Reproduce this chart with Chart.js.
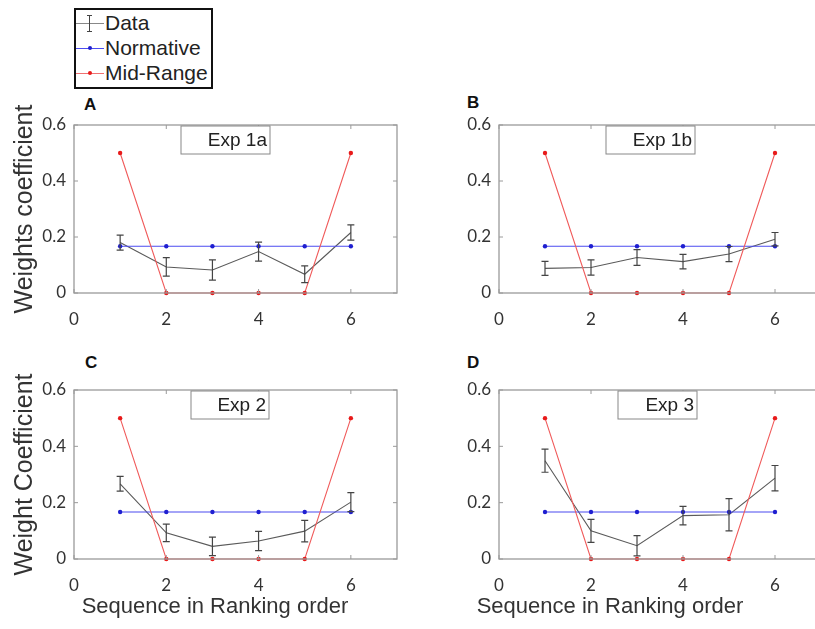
<!DOCTYPE html>
<html>
<head>
<meta charset="utf-8">
<script src="https://cdn.jsdelivr.net/npm/chart.js@4.4.0/dist/chart.umd.min.js"></script>
<style>
  html, body { margin: 0; padding: 0; background: #fff; }
  body { position: relative; width: 815px; height: 629px; overflow: hidden; font-family: "Liberation Sans", Arial, sans-serif; }
  canvas { position: absolute; }
  .letter { position: absolute; font-weight: bold; font-size: 17px; color: #111; }
  #legend { position: absolute; left: 74px; top: 8px; width: 139px; height: 81px; box-sizing: border-box; border: 2px solid #111; background: #fff; }
  #legend .row { position: relative; height: 25px; line-height: 25px; font-size: 21px; color: #222; padding-left: 29px; white-space: nowrap; }
  #legend .ln { position: absolute; left: 0; top: 13px; width: 28px; height: 1px; }
  #legend .dot { position: absolute; left: 12px; top: 11px; width: 4px; height: 4px; border-radius: 50%; }
  #legend .eb { position: absolute; left: 11px; top: 5px; width: 5px; height: 15px; border-top: 1px solid #444; border-bottom: 1px solid #444; }
  #legend .eb::after { content: ""; position: absolute; left: 2px; top: 0; width: 1px; height: 15px; background: #444; }
</style>
</head>
<body>
<div id="legend">
  <div class="row"><span class="ln" style="background:#888"></span><span class="eb"></span>Data</div>
  <div class="row"><span class="ln" style="background:#4b4bf0"></span><span class="dot" style="background:#1f1fd0"></span>Normative</div>
  <div class="row"><span class="ln" style="background:#f07070"></span><span class="dot" style="background:#e81a1a"></span>Mid-Range</div>
</div>
<div class="letter" style="left:84px;top:95px">A</div>
<div class="letter" style="left:467px;top:93px">B</div>
<div class="letter" style="left:85px;top:353px">C</div>
<div class="letter" style="left:467px;top:353px">D</div>

<canvas id="cA" width="430" height="230" style="left:0;top:100px"></canvas>
<canvas id="cB" width="400" height="230" style="left:425px;top:100px"></canvas>
<canvas id="cC" width="430" height="264" style="left:0;top:365px"></canvas>
<canvas id="cD" width="400" height="264" style="left:425px;top:365px"></canvas>

<script>
// rank positions
const ranks = [1, 2, 3, 4, 5, 6];
const normative = [0.1667, 0.1667, 0.1667, 0.1667, 0.1667, 0.1667];
const midRange = [0.5, 0, 0, 0, 0, 0.5];

// data means and error bar half-lengths for each experiment
const exp1aMean = [0.18, 0.093, 0.082, 0.148, 0.067, 0.216];
const exp1aErr  = [0.027, 0.033, 0.036, 0.034, 0.030, 0.027];
const exp1bMean = [0.088, 0.091, 0.127, 0.112, 0.139, 0.192];
const exp1bErr  = [0.025, 0.027, 0.028, 0.026, 0.027, 0.024];
const exp2Mean  = [0.267, 0.093, 0.045, 0.064, 0.099, 0.202];
const exp2Err   = [0.026, 0.031, 0.033, 0.034, 0.038, 0.034];
const exp3Mean  = [0.349, 0.100, 0.047, 0.154, 0.157, 0.287];
const exp3Err   = [0.041, 0.041, 0.036, 0.033, 0.057, 0.045];

const yTicks = ['0', '0.2', '0.4', '0.6'];
const xTicks = ['0', '2', '4', '6'];

const tickFont = { family: 'Lato, "Open Sans", sans-serif', size: 17 };
const tickColor = '#333';

const toXY = arr => arr.map((v, i) => ({ x: ranks[i], y: v }));

const panelPlugin = {
  id: 'panel',
  afterDatasetsDraw(chart, args, opts) {
    const { ctx, chartArea: a, scales: { x, y } } = chart;
    ctx.save();
    // error bars
    ctx.strokeStyle = '#444';
    ctx.lineWidth = 1.2;
    opts.mean.forEach((m, i) => {
      const px = x.getPixelForValue(ranks[i]);
      const top = y.getPixelForValue(m + opts.err[i]);
      const bot = y.getPixelForValue(m - opts.err[i]);
      ctx.beginPath();
      ctx.moveTo(px, top); ctx.lineTo(px, bot);
      ctx.moveTo(px - 3.5, top); ctx.lineTo(px + 3.5, top);
      ctx.moveTo(px - 3.5, bot); ctx.lineTo(px + 3.5, bot);
      ctx.stroke();
    });
    // axes box with inward ticks
    ctx.strokeStyle = '#9a9a9a';
    ctx.lineWidth = 1.3;
    ctx.strokeRect(a.left, a.top, a.right - a.left, a.bottom - a.top);
    ctx.lineWidth = 1;
    ctx.beginPath();
    x.ticks.forEach(t => {
      const px = x.getPixelForValue(t.value);
      ctx.moveTo(px, a.bottom); ctx.lineTo(px, a.bottom - 4);
      ctx.moveTo(px, a.top); ctx.lineTo(px, a.top + 4);
    });
    y.ticks.forEach(t => {
      const py = y.getPixelForValue(t.value);
      ctx.moveTo(a.left, py); ctx.lineTo(a.left + 4, py);
      ctx.moveTo(a.right, py); ctx.lineTo(a.right - 4, py);
    });
    ctx.stroke();
    // experiment label box
    const bx = a.left + opts.boxLeft, by = a.top + 1;
    ctx.fillStyle = '#fff';
    ctx.fillRect(bx, by, opts.boxWidth, 28);
    ctx.strokeStyle = '#888';
    ctx.strokeRect(bx, by, opts.boxWidth, 28);
    ctx.fillStyle = '#222';
    ctx.font = '19px "Liberation Sans", Arial, sans-serif';
    ctx.textAlign = 'right';
    ctx.textBaseline = 'middle';
    ctx.fillText(opts.label, bx + opts.boxWidth - 3, by + 15);
    // x axis caption
    if (opts.xTitle) {
      ctx.fillStyle = '#333';
      ctx.font = '22px "Liberation Sans", Arial, sans-serif';
      ctx.textAlign = 'center';
      ctx.fillText(opts.xTitle, opts.xTitleCenter, chart.height - 22);
    }
    ctx.restore();
  }
};

function makePanel(id, mean, err, o) {
  new Chart(document.getElementById(id), {
    type: 'scatter',
    data: {
      datasets: [{
        label: 'Mid-Range',
        data: toXY(midRange),
        showLine: true,
        borderColor: '#f05a5a',
        borderWidth: 1.1,
        pointRadius: 2.2,
        pointBackgroundColor: '#e81a1a',
        pointBorderWidth: 0,
        clip: false
      }, {
        label: 'Normative',
        data: toXY(normative),
        showLine: true,
        borderColor: '#4b4bf0',
        borderWidth: 1.1,
        pointRadius: 2.2,
        pointBackgroundColor: '#1f1fd0',
        pointBorderWidth: 0,
        clip: false
      }, {
        label: 'Data',
        data: toXY(mean),
        showLine: true,
        borderColor: '#5a5a5a',
        borderWidth: 1.1,
        pointRadius: 0,
        clip: false
      }]
    },
    options: {
      responsive: false,
      animation: false,
      layout: { padding: { top: 25, right: o.padRight, left: 0, bottom: 0 } },
      plugins: {
        legend: { display: false },
        tooltip: { enabled: false },
        panel: { mean: mean, err: err, label: o.label, boxLeft: o.boxLeft, boxWidth: o.boxWidth,
                 xTitle: o.xTitle, xTitleCenter: o.xTitleCenter }
      },
      scales: {
        x: {
          type: 'linear',
          min: 0,
          max: 7,
          grid: { display: false, drawTicks: false },
          border: { display: false },
          ticks: {
            stepSize: 2, padding: 16, font: tickFont, color: tickColor,
            callback: v => xTicks[v / 2]
          },
          afterBuildTicks: s => { s.ticks = s.ticks.filter(t => t.value <= 6); },
          afterFit: s => { s.height = o.xHeight; }
        },
        y: {
          min: 0,
          max: 0.6,
          grid: { display: false, drawTicks: false },
          border: { display: false },
          ticks: {
            stepSize: 0.2, padding: 8, font: tickFont, color: tickColor,
            callback: v => yTicks[Math.round(v / 0.2)]
          },
          afterFit: s => { s.width = 74; },
          title: {
            display: !!o.yTitle,
            text: o.yTitle || '',
            color: '#333',
            font: { family: '"Liberation Sans", Arial, sans-serif', size: 25 },
            padding: { top: 10, bottom: 0 }
          }
        }
      }
    },
    plugins: [panelPlugin]
  });
}

makePanel('cA', exp1aMean, exp1aErr, { label: 'Exp 1a', boxLeft: 107, boxWidth: 89, padRight: 33, xHeight: 37, yTitle: 'Weights coefficient' });
makePanel('cB', exp1bMean, exp1bErr, { label: 'Exp 1b', boxLeft: 107, boxWidth: 89, padRight: 3, xHeight: 37 });
makePanel('cC', exp2Mean, exp2Err, { label: 'Exp 2', boxLeft: 117, boxWidth: 78, padRight: 33, xHeight: 70, yTitle: 'Weight Coefficient',
  xTitle: 'Sequence in Ranking order', xTitleCenter: 215 });
makePanel('cD', exp3Mean, exp3Err, { label: 'Exp 3', boxLeft: 119, boxWidth: 79, padRight: 3, xHeight: 70,
  xTitle: 'Sequence in Ranking order', xTitleCenter: 185 });
</script>
</body>
</html>
